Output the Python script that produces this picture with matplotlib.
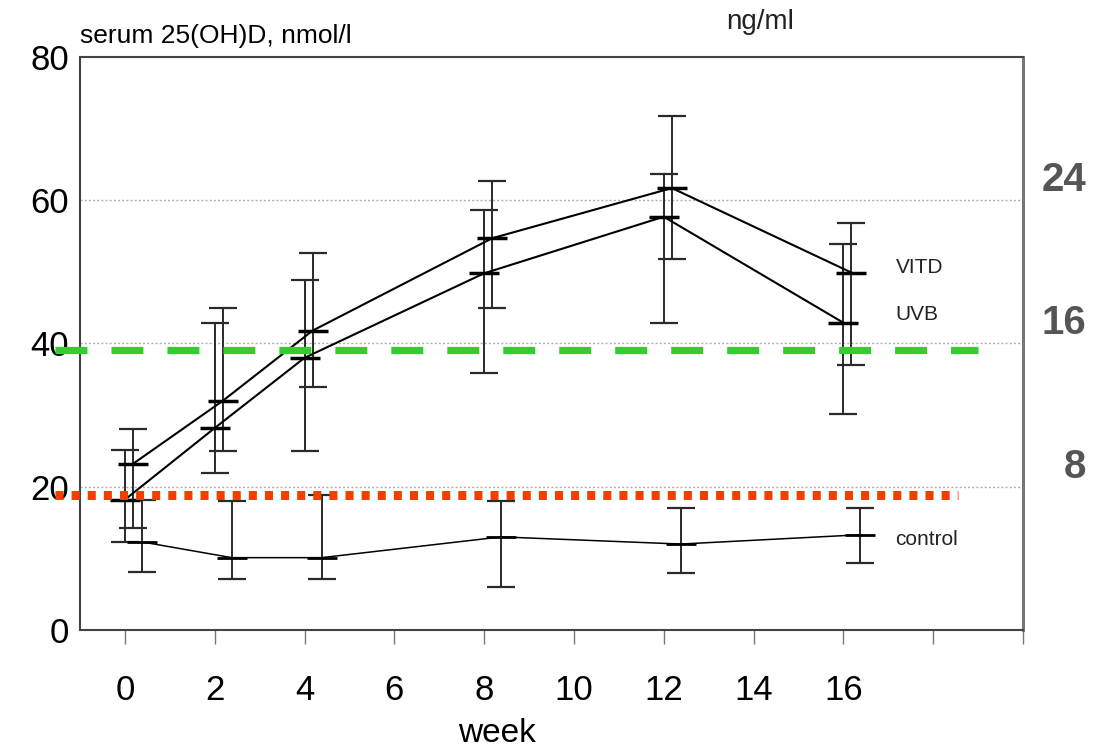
import matplotlib
matplotlib.use("Agg")
import matplotlib.pyplot as plt
import numpy as np

plt.rcParams['font.family'] = ['Liberation Sans', 'DejaVu Sans']
plt.rcParams['lines.scale_dashes'] = False

# ---- data (nmol/l) ----
weeks = [0, 2, 4, 8, 12, 16]
uvb_mean = [18.2, 28.2, 38.0, 49.8, 57.7, 42.9]
uvb_hi = [25.2, 42.9, 48.8, 58.6, 63.7, 53.9]
uvb_lo = [12.3, 21.9, 25.0, 35.9, 42.9, 30.1]
vitd_mean = [23.2, 32.0, 41.8, 54.7, 61.7, 49.9]
vitd_hi = [28.1, 44.9, 52.7, 62.7, 71.7, 56.8]
vitd_lo = [14.2, 25.0, 33.9, 44.9, 51.8, 37.0]
ctrl_mean = [12.3, 10.1, 10.1, 13.0, 12.0, 13.3]
ctrl_hi = [18.2, 18.0, 18.9, 18.0, 17.0, 17.1]
ctrl_lo = [8.1, 7.1, 7.1, 6.0, 8.0, 9.3]
x_ticks = [0, 2, 4, 6, 8, 10, 12, 14, 16, 18, 20]
x_ticklabels = ['0', '2', '4', '6', '8', '10', '12', '14', '16', '', '']
y_ticks = [0, 20, 40, 60, 80]
ngml_labels = ['24', '16', '8']
green_level = 39.1
red_level = 18.9

fig = plt.figure(figsize=(10.99, 7.52), dpi=100)
ax = fig.add_axes([80/1099, 1-630/752, (1023-80)/1099, (630-57)/752])
ax.set_xlim(-1, 20)
ax.set_ylim(0, 80)

# grid (horizontal dotted)
for v in [20, 40, 60]:
    ax.axhline(v, color='#b0b0b0', lw=1.0, ls=(0, (1.5, 1.5)), zorder=1)

w = np.array(weeks, dtype=float)

def draw(xs, mean, hi, lo, lw_line, mk_w, mew):
    mean = np.array(mean); hi = np.array(hi); lo = np.array(lo)
    ax.errorbar(xs, mean, yerr=[mean - lo, hi - mean], fmt='none',
                ecolor='#2a2a2a', elinewidth=1.4, capsize=10, capthick=1.6, zorder=3)
    ax.plot(xs, mean, color='black', lw=lw_line, zorder=4)
    ax.plot(xs, mean, ls='none', marker='_', markersize=mk_w, mew=mew,
            color='black', zorder=5)

draw(w + 0.0, uvb_mean, uvb_hi, uvb_lo, 1.5, 22, 2.5)
draw(w + 0.18, vitd_mean, vitd_hi, vitd_lo, 1.5, 22, 2.5)
draw(w + 0.38, ctrl_mean, ctrl_hi, ctrl_lo, 1.1, 22, 2.0)

ax.text(17.16, 50.6, 'VITD', fontsize=15, va='center', ha='left', color='#222222')
ax.text(17.16, 44.0, 'UVB', fontsize=15, va='center', ha='left', color='#222222')
ax.text(17.16, 12.6, 'control', fontsize=15, va='center', ha='left', color='#222222')

# threshold lines extending beyond the axes
ax.plot([-1.56, 19.0], [green_level, green_level], color='#33cc33', lw=5.2,
        ls=(0, (23, 17.3)), solid_capstyle='butt', dash_capstyle='butt',
        clip_on=False, zorder=6)
ax.plot([-1.56, 18.56], [red_level, red_level], color='#ff3a00', lw=6.5,
        ls=(0, (5.8, 5.8)), dash_capstyle='butt', clip_on=False, zorder=6)

# axes styling
for s in ['left', 'top', 'bottom']:
    ax.spines[s].set_color('#444444')
    ax.spines[s].set_linewidth(1.5)
ax.spines['right'].set_color('#777777')
ax.spines['right'].set_linewidth(2.2)

ax.set_xticks(x_ticks)
ax.set_xticklabels(x_ticklabels)
ax.set_yticks(y_ticks)
ax.tick_params(axis='x', direction='out', length=10, width=1.0, color='#777777',
               pad=22, labelsize=25)
ax.tick_params(axis='y', length=0, pad=8, labelsize=25)

fig.text(80/1099, 1-36/752, 'serum 25(OH)D, nmol/l', fontsize=19, ha='left', va='center')
fig.text(497/1099, 1-733/752, 'week', fontsize=24, ha='center', va='center')
fig.text(760/1099, 1-22/752, 'ng/ml', fontsize=20, ha='center', va='center', color='#222222')

# ng/ml labels on the right
for lab, y in zip(ngml_labels, [180, 323, 467]):
    fig.text(1086/1099, 1-y/752, lab, fontsize=29, fontweight='bold', color='#555555',
             ha='right', va='center')

fig.savefig('out.png', dpi=100)
